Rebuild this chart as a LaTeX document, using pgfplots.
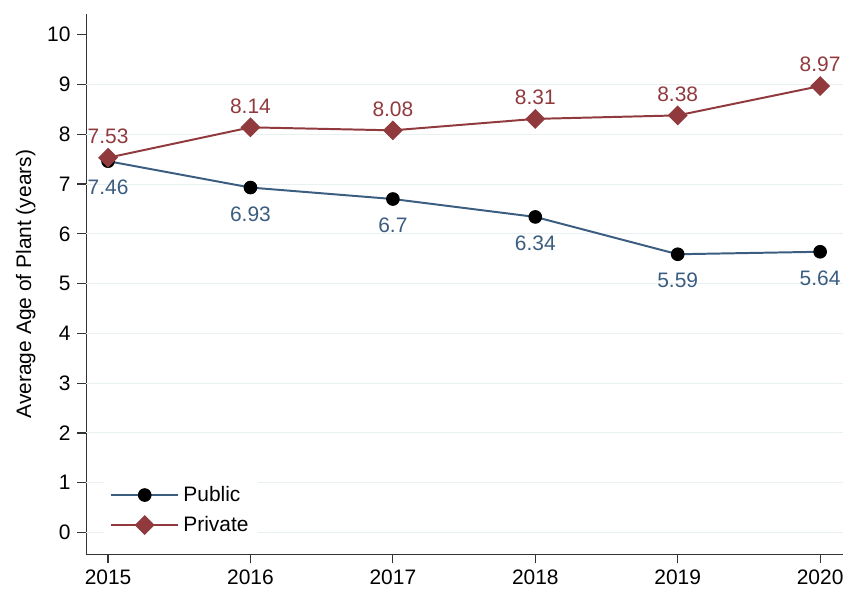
\documentclass[border=0pt]{standalone}
\usepackage{pgfplots}
\pgfplotsset{compat=1.18}
\usepackage{fontspec}
\setmainfont{Liberation Sans}
\definecolor{pubc}{HTML}{3A5D80}
\definecolor{privc}{HTML}{903A3E}
\definecolor{gridc}{HTML}{E8F0F2}
\begin{document}
\begin{tikzpicture}
\begin{axis}[
  name=ax,
  scale only axis,
  width=381.5bp, height=272.5bp,
  xmin=2014.847, xmax=2020.16,
  ymin=-0.44, ymax=10.42,
  axis x line*=bottom, axis y line*=left,
  axis line style={black!80, line width=0.6pt},
  tick align=outside,
  tick style={black!80, line width=0.6pt},
  major tick length=4.5bp,
  xtick={2015,2016,2017,2018,2019,2020},
  ytick={0,1,...,10},
  extra y ticks={0,1,...,9},
  extra y tick labels={},
  extra y tick style={grid=major, major tick length=0pt},
  grid style={gridc, line width=0.5pt},
  x tick label style={/pgf/number format/1000 sep={}},
  /pgf/number format/assume math mode=true,
  tick label style={font=\fontsize{10.6}{12}\selectfont},
  ylabel={Average Age of Plant (years)},
  every axis y label/.style={at={(axis description cs:-0.08,0.5)}, rotate=90, anchor=center,
    font=\fontsize{10.6}{12}\selectfont},
  legend style={at={(0.023,0.022)}, anchor=south west, draw=none, fill=white,
    font=\fontsize{10.6}{12}\selectfont, row sep=2bp},
  legend cell align=left,
  legend image code/.code={
    \draw[mark repeat=2,mark phase=2] plot coordinates {(0cm,0cm) (0.6cm,0cm) (1.2cm,0cm)};},
  nodes near coords,
  point meta=explicit symbolic,
]
\addplot[color=pubc, line width=1pt, mark=*, mark size=3.2pt, mark options={fill=black, draw=black, line width=0.5pt},
  every node near coord/.style={font=\fontsize{10.6}{12}\selectfont, text=pubc, anchor=north, yshift=-6bp}]
  table[meta=lab] {
x y lab
2015 7.46 7.46
2016 6.93 6.93
2017 6.70 6.7
2018 6.34 6.34
2019 5.59 5.59
2020 5.64 5.64
};
\addlegendentry{Public}
\addplot[color=privc, line width=1pt, mark=square*, mark size=3.3pt, mark options={fill=privc, draw=privc, rotate=45, line width=0.5pt},
  every node near coord/.style={font=\fontsize{10.6}{12}\selectfont, text=privc, anchor=south, yshift=3.5bp}]
  table[meta=lab] {
x y lab
2015 7.53 7.53
2016 8.14 8.14
2017 8.08 8.08
2018 8.31 8.31
2019 8.38 8.38
2020 8.97 8.97
};
\addlegendentry{Private}
\end{axis}
\path ([xshift=-43.5bp, yshift=7bp]ax.north west) rectangle ([yshift=-18bp]ax.south east);
\end{tikzpicture}
\end{document}
